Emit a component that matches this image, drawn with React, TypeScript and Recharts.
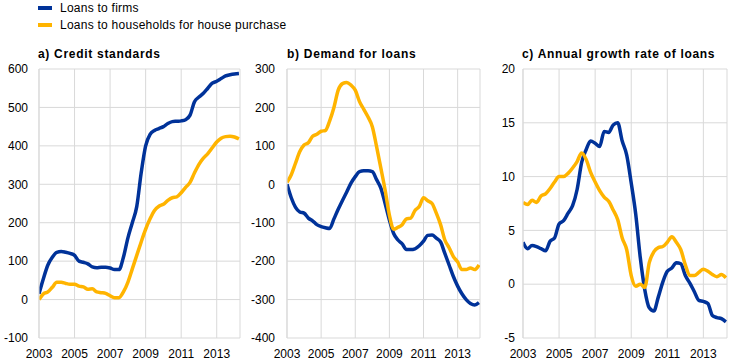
import React from 'react';
import { LineChart, Line, XAxis, YAxis, CartesianGrid } from 'recharts';

const periods = [2003, 2003.25, 2003.5, 2003.75, 2004, 2004.25, 2004.5, 2004.75, 2005, 2005.25, 2005.5, 2005.75, 2006, 2006.25, 2006.5, 2006.75, 2007, 2007.25, 2007.5, 2007.75, 2008, 2008.25, 2008.5, 2008.75, 2009, 2009.25, 2009.5, 2009.75, 2010, 2010.25, 2010.5, 2010.75, 2011, 2011.25, 2011.5, 2011.75, 2012, 2012.25, 2012.5, 2012.75, 2013, 2013.25, 2013.5, 2013.75, 2014, 2014.25];

const xTicks = [2003, 2005, 2007, 2009, 2011, 2013];

const firmsStandards = [15, 55, 90, 110, 123, 125, 123, 120, 115, 100, 97, 93, 85, 83, 84, 84, 82, 78, 78, 110, 160, 200, 242, 330, 400, 430, 440, 445, 450, 458, 463, 464, 465, 468, 480, 515, 527, 537, 550, 563, 568, 575, 582, 585, 587, 588];
const householdsStandards = [0, 15, 20, 32, 45, 45, 42, 40, 40, 35, 33, 27, 28, 20, 18, 16, 10, 5, 5, 20, 45, 80, 115, 150, 183, 210, 232, 243, 248, 258, 265, 267, 278, 292, 305, 330, 352, 368, 380, 395, 410, 420, 424, 425, 423, 418];

const firmsDemand = [0, -35, -60, -72, -75, -88, -95, -105, -110, -113, -115, -90, -65, -42, -20, 3, 20, 33, 35, 35, 33, 12, -10, -50, -93, -128, -145, -155, -170, -170, -168, -160, -148, -133, -132, -140, -150, -180, -210, -240, -265, -285, -300, -310, -314, -308];
const householdsDemand = [5, 25, 55, 85, 102, 108, 125, 130, 138, 140, 165, 200, 245, 262, 265, 258, 245, 215, 195, 175, 150, 98, 42, -15, -80, -117, -112, -105, -90, -88, -68, -58, -35, -43, -50, -75, -105, -145, -165, -188, -202, -222, -222, -218, -222, -210];

const firmsGrowth = [3.9, 3.3, 3.6, 3.5, 3.3, 3.1, 4.0, 4.3, 5.6, 5.9, 6.6, 7.3, 8.8, 11.3, 12.5, 13.3, 13.1, 12.8, 14.2, 14.1, 14.8, 15.0, 13.3, 12.0, 9.4, 6.5, 2.5, -0.5, -2.2, -2.5, -1.2, 0.2, 1.2, 1.5, 2.0, 1.9, 0.8, 0.1, -0.7, -1.5, -1.6, -1.8, -2.9, -3.1, -3.2, -3.5];
const householdsGrowth = [7.6, 7.4, 7.8, 7.6, 8.2, 8.4, 8.9, 9.5, 10.0, 10.0, 10.3, 10.8, 11.4, 12.2, 11.6, 10.4, 9.5, 8.7, 8.1, 7.7, 6.9, 6.0, 4.3, 3.2, 0.8, -0.2, 0.0, -0.3, 2.0, 3.0, 3.4, 3.5, 3.9, 4.4, 3.9, 3.2, 1.8, 0.8, 0.8, 1.1, 1.4, 1.2, 0.9, 0.7, 0.9, 0.6];

const seriesNames = ['Loans to firms', 'Loans to households for house purchase'];
const panelTitles = ['a) Credit standards', 'b) Demand for loans', 'c) Annual growth rate of loans'];
const ticksA = [-100, 0, 100, 200, 300, 400, 500, 600];
const ticksB = [-400, -300, -200, -100, 0, 100, 200, 300];
const ticksC = [-5, 0, 5, 10, 15, 20];

const BLUE = '#003299';
const YELLOW = '#FFB400';
const GRID = '#d9d9d9';
const FONT = '"Liberation Sans", Arial, sans-serif';

function build(firms: number[], households: number[]) {
  return periods.map((p, i) => ({ t: p, firms: firms[i], households: households[i] }));
}

type PanelProps = {
  left: number;
  width: number;
  yWidth: number;
  rightMargin: number;
  tickMargin: number;
  ticks: number[];
  data: any[];
  title: string;
  titleLeft: number;
};

function Panel(p: PanelProps) {
  return (
    <>
      <div
        style={{
          position: 'absolute',
          left: p.titleLeft,
          top: 47,
          fontFamily: FONT,
          fontSize: 12,
          fontWeight: 'bold',
          letterSpacing: 0.7,
          lineHeight: '14px',
          whiteSpace: 'nowrap',
          color: '#000',
        }}
      >
        {p.title}
      </div>
      <div style={{ position: 'absolute', left: p.left, top: 40 }}>
        <LineChart
          width={p.width}
          height={324}
          data={p.data}
          margin={{ top: 29, right: p.rightMargin, bottom: 0, left: 0 }}
        >
          <CartesianGrid stroke={GRID} strokeWidth={1} />
          <XAxis
            dataKey="t"
            type="number"
            domain={[2003, 2014.31]}
            ticks={xTicks}
            interval={0}
            height={26}
            axisLine={false}
            tickLine={false}
            tickSize={0}
            tickMargin={11}
            tick={{ fill: '#000', fontSize: 12, fontFamily: FONT }}
            allowDataOverflow
          />
          <YAxis
            type="number"
            domain={[p.ticks[0], p.ticks[p.ticks.length - 1]]}
            ticks={p.ticks}
            interval={0}
            width={p.yWidth}
            axisLine={{ stroke: GRID }}
            tickLine={false}
            tickSize={0}
            tickMargin={p.tickMargin}
            tick={{ fill: '#000', fontSize: 12, fontFamily: FONT }}
          />
          <Line
            dataKey="firms"
            type="monotone"
            stroke={BLUE}
            strokeWidth={3.5}
            dot={false}
            isAnimationActive={false}
          />
          <Line
            dataKey="households"
            type="monotone"
            stroke={YELLOW}
            strokeWidth={3.5}
            dot={false}
            isAnimationActive={false}
          />
        </LineChart>
      </div>
    </>
  );
}

export default function App() {
  const legendColors = [BLUE, YELLOW];
  return (
    <div
      style={{
        position: 'absolute',
        left: 0,
        top: 0,
        width: 742,
        height: 364,
        background: '#fff',
        overflow: 'hidden',
      }}
    >
      {seriesNames.map((name, i) => (
        <React.Fragment key={name}>
          <div
            style={{
              position: 'absolute',
              left: 38,
              top: 6 + i * 17,
              width: 14,
              height: 4,
              background: legendColors[i],
            }}
          />
          <div
            style={{
              position: 'absolute',
              left: 60,
              top: 1 + i * 17,
              fontFamily: FONT,
              fontSize: 12,
              letterSpacing: 0.25,
              lineHeight: '14px',
              whiteSpace: 'nowrap',
              color: '#000',
            }}
          >
            {name}
          </div>
        </React.Fragment>
      ))}
      <Panel
        left={0}
        width={250}
        yWidth={39}
        rightMargin={10}
        tickMargin={11}
        ticks={ticksA}
        data={build(firmsStandards, householdsStandards)}
        title={panelTitles[0]}
        titleLeft={38}
      />
      <Panel
        left={245}
        width={250}
        yWidth={42}
        rightMargin={15}
        tickMargin={12}
        ticks={ticksB}
        data={build(firmsDemand, householdsDemand)}
        title={panelTitles[1]}
        titleLeft={287}
      />
      <Panel
        left={490}
        width={252}
        yWidth={33}
        rightMargin={15}
        tickMargin={8}
        ticks={ticksC}
        data={build(firmsGrowth, householdsGrowth)}
        title={panelTitles[2]}
        titleLeft={522}
      />
    </div>
  );
}
